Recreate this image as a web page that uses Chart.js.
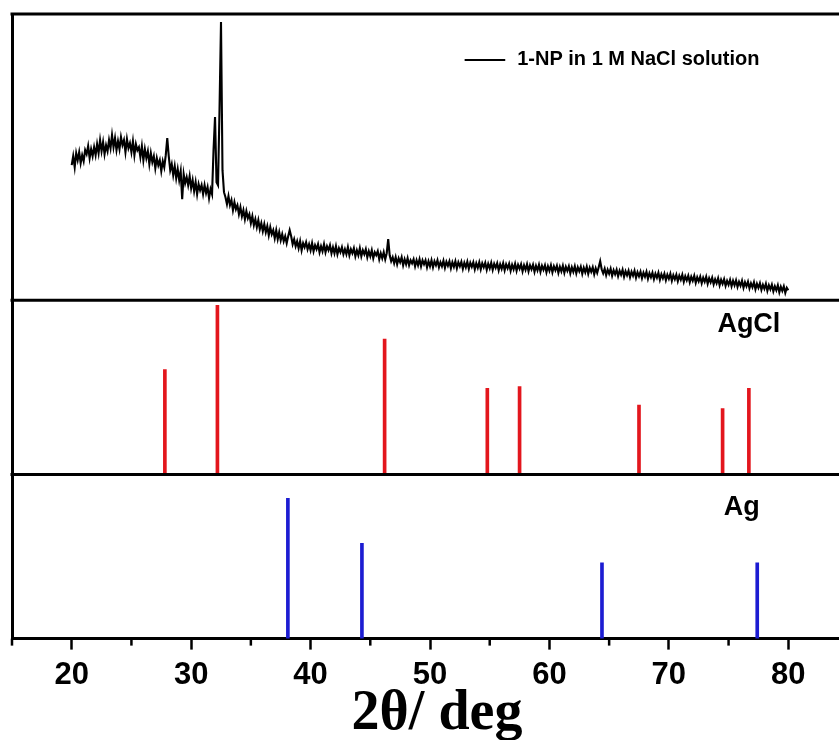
<!DOCTYPE html>
<html>
<head>
<meta charset="utf-8">
<script src="https://cdn.jsdelivr.net/npm/chart.js@4.4.0/dist/chart.umd.min.js"></script>
<style>
  html, body { margin: 0; padding: 0; background: #fff; overflow: hidden; }
  #wrap { width: 839px; height: 740px; overflow: hidden; }
</style>
</head>
<body>
<div id="wrap"><canvas id="xrdChart" width="860" height="740"></canvas></div>
<script>
const xrdLabel = '1-NP in 1 M NaCl solution';
const xrdStart = 20;      // first 2θ of the scan
const xrdStep = 0.125;    // 2θ step of the scan
const xrdCounts = [
  1350, 1440, 1330, 1470, 1400, 1480, 1370, 1450,  // 20
  1390, 1500, 1460, 1540, 1420, 1510, 1440, 1530,  // 21
  1450, 1560, 1470, 1600, 1490, 1580, 1460, 1550,  // 22
  1490, 1600, 1520, 1650, 1530, 1620, 1500, 1590,  // 23
  1510, 1630, 1550, 1600, 1480, 1610, 1520, 1570,  // 24
  1480, 1590, 1450, 1560, 1500, 1530, 1430, 1540,  // 25
  1400, 1510, 1420, 1490, 1360, 1470, 1380, 1440,  // 26
  1320, 1420, 1350, 1400, 1290, 1390, 1330, 1450,  // 27
  1620, 1440, 1300, 1360, 1250, 1340, 1220, 1310,  // 28
  1200, 1290, 1010, 1260, 1170, 1230, 1150, 1240,  // 29
  1120, 1200, 1090, 1180, 1060, 1160, 1100, 1150,  // 30
  1060, 1150, 1070, 1130, 1020, 1110, 1060, 1500,  // 31
  1830, 1180, 1150, 1900, 2780, 1300, 1080, 1030,  // 32
  960, 1040, 950, 1000, 900, 980, 910, 950,        // 33
  860, 930, 840, 900, 810, 890, 820, 860,          // 34
  770, 840, 750, 810, 730, 800, 710, 770,          // 35
  690, 760, 680, 740, 650, 730, 660, 700,          // 36
  620, 700, 610, 680, 600, 660, 590, 640,          // 37
  570, 640, 700, 640, 560, 610, 540, 590,          // 38
  520, 590, 500, 570, 530, 580, 510, 560,          // 39
  500, 570, 490, 550, 510, 560, 480, 540,          // 40
  490, 560, 480, 540, 500, 550, 470, 530,          // 41
  470, 540, 460, 520, 480, 530, 460, 510,          // 42
  460, 530, 450, 510, 470, 520, 440, 500,          // 43
  450, 520, 440, 500, 460, 510, 430, 490,          // 44
  440, 500, 420, 480, 450, 490, 410, 470,          // 45
  420, 480, 410, 470, 610, 450, 390, 430,          // 46
  370, 430, 360, 420, 380, 430, 350, 410,          // 47
  360, 420, 350, 400, 370, 410, 340, 400,          // 48
  350, 410, 340, 400, 360, 400, 330, 390,          // 49
  340, 400, 330, 390, 350, 400, 330, 380,          // 50
  340, 395, 325, 385, 345, 390, 320, 380,          // 51
  335, 390, 320, 380, 340, 385, 315, 375,          // 52
  330, 385, 315, 375, 335, 380, 310, 370,          // 53
  325, 380, 310, 370, 330, 375, 305, 365,          // 54
  320, 375, 305, 365, 325, 370, 300, 360,          // 55
  315, 370, 300, 360, 320, 365, 295, 355,          // 56
  310, 365, 295, 355, 315, 360, 290, 350,          // 57
  305, 360, 290, 350, 310, 355, 285, 345,          // 58
  300, 355, 285, 345, 305, 350, 280, 340,          // 59
  295, 350, 280, 340, 300, 345, 275, 335,          // 60
  290, 345, 275, 335, 295, 340, 270, 330,          // 61
  285, 340, 270, 330, 290, 335, 265, 325,          // 62
  280, 335, 265, 325, 285, 330, 260, 320,          // 63
  275, 330, 390, 310, 270, 315, 250, 305,          // 64
  265, 315, 245, 300, 260, 305, 240, 295,          // 65
  255, 305, 235, 290, 250, 295, 230, 285,          // 66
  245, 295, 225, 280, 240, 285, 220, 275,          // 67
  235, 285, 215, 270, 230, 275, 210, 265,          // 68
  225, 275, 205, 260, 220, 265, 200, 255,          // 69
  215, 265, 195, 250, 210, 255, 190, 245,          // 70
  205, 255, 185, 240, 200, 245, 180, 235,          // 71
  195, 245, 175, 230, 190, 235, 170, 225,          // 72
  185, 235, 165, 220, 180, 225, 160, 210,          // 73
  170, 220, 150, 205, 165, 210, 145, 195,          // 74
  155, 205, 140, 195, 150, 200, 135, 185,          // 75
  145, 195, 125, 180, 140, 185, 120, 170,          // 76
  130, 180, 110, 165, 125, 170, 105, 155,          // 77
  115, 165, 95, 150, 110, 155, 90, 140,            // 78
  100, 150, 80, 135, 95, 140, 75, 125,             // 79
  100                                              // 80
];
const agclPeaks = [27.8, 32.2, 46.2, 54.8, 57.5, 67.5, 74.5, 76.7];
const agclIntensity = [62, 100, 80, 51, 52, 41, 39, 51];
const agPeaks = [38.1, 44.3, 64.4, 77.4];
const agIntensity = [100, 68, 54, 54];
const xTicks = [20, 30, 40, 50, 60, 70, 80];
const xMinorTicks = [15, 25, 35, 45, 55, 65, 75, 85];

const sans = "'Liberation Sans', Arial, sans-serif";
const serif = "'Liberation Serif', 'Times New Roman', serif";

const xrdPoints = xrdCounts.map((c, i) => ({ x: xrdStart + i * xrdStep, y: c }));
const agclPoints = agclPeaks.map((p, i) => ({ x: p, y: agclIntensity[i] }));
const agPoints = agPeaks.map((p, i) => ({ x: p, y: agIntensity[i] }));

// frame, minor ticks and in-panel labels
const panelDecor = {
  id: 'panelDecor',
  afterDatasetsDraw(chart) {
    const ctx = chart.ctx;
    const area = chart.chartArea;
    const x = chart.scales.x;
    ctx.save();
    ctx.strokeStyle = '#000';
    ctx.lineWidth = 3;
    ['yXrd', 'yAgCl', 'yAg'].forEach(id => {
      const s = chart.scales[id];
      ctx.beginPath();
      ctx.moveTo(area.left - 1.5, s.top);
      ctx.lineTo(area.right, s.top);
      ctx.stroke();
    });
    ctx.lineWidth = 2.5;
    xMinorTicks.forEach(v => {
      const px = x.getPixelForValue(v);
      ctx.beginPath();
      ctx.moveTo(px, x.top);
      ctx.lineTo(px, x.top + 7);
      ctx.stroke();
    });

    // legend
    const yTop = chart.scales.yXrd.top;
    ctx.lineWidth = 2;
    ctx.beginPath();
    ctx.moveTo(x.getPixelForValue(52.9), yTop + 46);
    ctx.lineTo(x.getPixelForValue(56.3), yTop + 46);
    ctx.stroke();
    ctx.fillStyle = '#000';
    ctx.font = 'bold 20px ' + sans;
    ctx.textBaseline = 'middle';
    ctx.textAlign = 'left';
    ctx.fillText(chart.data.datasets[0].label, x.getPixelForValue(57.3), yTop + 45);

    ctx.font = 'bold 27px ' + sans;
    ctx.textBaseline = 'alphabetic';
    ctx.textAlign = 'center';
    ctx.fillText('AgCl', x.getPixelForValue(76.7), chart.scales.yAgCl.top + 32);
    ctx.fillText('Ag', x.getPixelForValue(76.1), chart.scales.yAg.top + 41);
    ctx.restore();
  }
};

const hiddenY = (weight, max) => ({
  type: 'linear',
  position: 'left',
  stack: 'panels',
  stackWeight: weight,
  min: 0,
  max: max,
  ticks: { display: false },
  grid: { display: false },
  border: { display: true, width: 3, color: '#000' },
  afterFit: scale => { scale.width = 0; }
});

new Chart(document.getElementById('xrdChart').getContext('2d'), {
  type: 'line',
  data: {
    datasets: [
      {
        label: xrdLabel,
        data: xrdPoints,
        yAxisID: 'yXrd',
        borderColor: '#000',
        borderWidth: 2.1,
        pointRadius: 0,
        tension: 0
      },
      {
        type: 'bar',
        label: 'AgCl',
        data: agclPoints,
        yAxisID: 'yAgCl',
        backgroundColor: '#e3161d',
        barThickness: 3,
        grouped: false
      },
      {
        type: 'bar',
        label: 'Ag',
        data: agPoints,
        yAxisID: 'yAg',
        backgroundColor: '#1c1cd2',
        barThickness: 3,
        grouped: false
      }
    ]
  },
  options: {
    responsive: false,
    animation: false,
    devicePixelRatio: 1,
    layout: { padding: { left: 12, right: 12, top: 14, bottom: 10.6 } },
    plugins: {
      legend: { display: false },
      tooltip: { enabled: false }
    },
    scales: {
      x: {
        type: 'linear',
        position: 'bottom',
        min: 15,
        max: 85,
        offset: false,
        afterBuildTicks: scale => { scale.ticks = xTicks.map(v => ({ value: v })); },
        grid: { offset: false, drawOnChartArea: false, drawTicks: true, tickLength: 11, tickWidth: 2.5, tickColor: '#000' },
        border: { display: true, width: 3, color: '#000' },
        ticks: {
          color: '#000',
          padding: 10,
          maxRotation: 0,
          autoSkip: false,
          font: { family: sans, size: 31, weight: 'bold', lineHeight: 1 }
        },
        title: {
          display: true,
          text: ' 2θ/ deg',
          color: '#000',
          padding: 0,
          font: { family: serif, size: 56, weight: 'bold', lineHeight: 0.514 }
        }
      },
      yAg: hiddenY(164, 117),
      yAgCl: hiddenY(174, 103),
      yXrd: hiddenY(286, 2860)
    }
  },
  plugins: [panelDecor]
});
</script>
</body>
</html>
